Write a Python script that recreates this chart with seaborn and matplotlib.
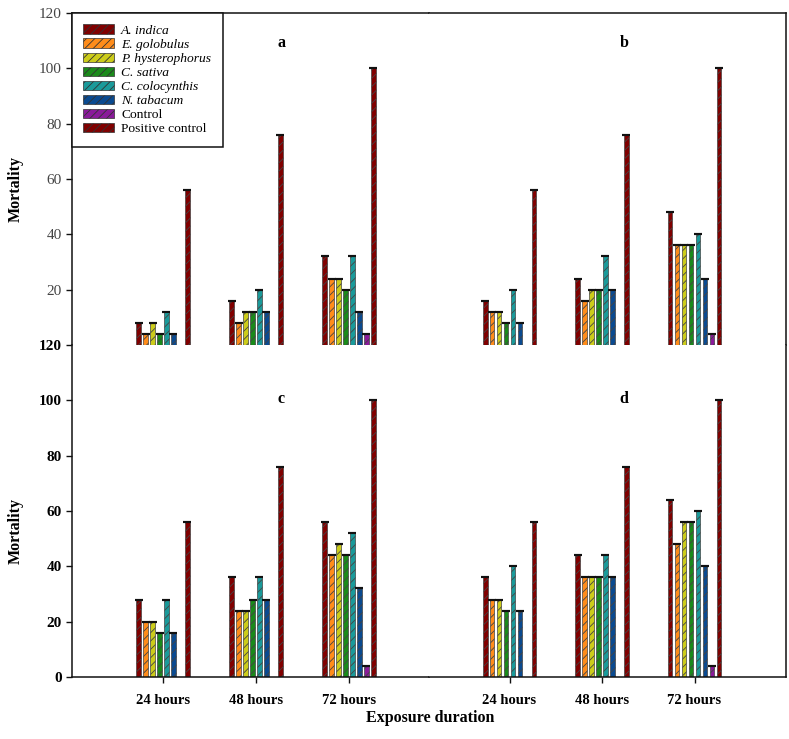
import matplotlib
matplotlib.use("Agg")
import matplotlib.pyplot as plt
from matplotlib.patches import Patch
import seaborn as sns
import pandas as pd

durations = ["24 hours", "48 hours", "72 hours"]
treatments = ["A. indica", "E. golobulus", "P. hysterophorus", "C. sativa",
              "C. colocynthis", "N. tabacum", "Control", "Positive control"]
colors = ["#800000", "#ff8c1a", "#cccc1a", "#1a8a1a",
          "#1a9a9a", "#0a4a90", "#8a1a9a", "#800000"]

# rows: treatments, columns: 24 h, 48 h, 72 h
panel_a = [[8, 16, 32], [4, 8, 24], [8, 12, 24], [4, 12, 20],
           [12, 20, 32], [4, 12, 12], [0, 0, 4], [56, 76, 100]]
panel_b = [[16, 24, 48], [12, 16, 36], [12, 20, 36], [8, 20, 36],
           [20, 32, 40], [8, 20, 24], [0, 0, 4], [56, 76, 100]]
panel_c = [[28, 36, 56], [20, 24, 44], [20, 24, 48], [16, 28, 44],
           [28, 36, 52], [16, 28, 32], [0, 0, 4], [56, 76, 100]]
panel_d = [[36, 44, 64], [28, 36, 48], [28, 36, 56], [24, 36, 56],
           [40, 44, 60], [24, 36, 40], [0, 0, 4], [56, 76, 100]]
panel_letters = ["a", "b", "c", "d"]

sns.set_theme(style="white")
plt.rcParams["font.family"] = ["Liberation Serif", "DejaVu Serif"]
plt.rcParams["hatch.linewidth"] = 0.6
plt.rcParams["hatch.color"] = "#111111"
plt.rcParams["text.color"] = "black"
plt.rcParams["axes.labelcolor"] = "black"
plt.rcParams["xtick.color"] = "black"
plt.rcParams["ytick.color"] = "black"

W, H = 789, 739
fig = plt.figure(figsize=(W / 100, H / 100), dpi=100)

left_px, mid_px, right_px = 72, 429, 786
top_px, midy_px, bot_px = 13, 345, 677


def box(x0, x1, y0, y1):
    return [x0 / W, 1 - y1 / H, (x1 - x0) / W, (y1 - y0) / H]


axes = [
    fig.add_axes(box(left_px, mid_px, top_px, midy_px)),
    fig.add_axes(box(mid_px, right_px, top_px, midy_px)),
    fig.add_axes(box(left_px, mid_px, midy_px, bot_px)),
    fig.add_axes(box(mid_px, right_px, midy_px, bot_px)),
]
panels = [panel_a, panel_b, panel_c, panel_d]

for i, (ax, panel) in enumerate(zip(axes, panels)):
    rows = []
    for t, vals in zip(treatments, panel):
        for d, v in zip(durations, vals):
            rows.append({"duration": d, "treatment": t, "mortality": v})
    df = pd.DataFrame(rows)
    sns.barplot(data=df, x="duration", y="mortality", hue="treatment",
                order=durations, hue_order=treatments, palette=colors,
                width=0.6, gap=0.35, errorbar=None, ax=ax,
                edgecolor="#444444", linewidth=0.5, hatch="////",
                legend=False, saturation=1)
    # caps on top of bars
    for p in ax.patches:
        h = p.get_height()
        if h > 0:
            ax.errorbar(p.get_x() + p.get_width() / 2, h, yerr=0,
                        fmt="none", ecolor="#111111", capsize=3,
                        capthick=1.5, elinewidth=0)
    ax.set_ylim(0, 120)
    unit = 93.0
    if i % 2 == 0:
        ax.set_xlim(-(163 - left_px) / unit, 2 + (mid_px - 349) / unit)
    else:
        ax.set_xlim(-(510 - mid_px) / unit, 2 + (right_px - 694) / unit)
    ax.set_xlabel("")
    ax.set_ylabel("")
    for s in ax.spines.values():
        s.set_color("#111111")
        s.set_linewidth(1.1)
    top_row = i < 2
    left_col = i % 2 == 0
    ax.spines["top"].set_visible(top_row)
    ax.spines["bottom"].set_visible(not top_row)
    ax.spines["left"].set_visible(left_col)
    ax.spines["right"].set_visible(not left_col)
    ax.tick_params(axis="both", direction="out", length=4, width=1,
                   color="#111111")
    if top_row:
        ax.set_xticks([])
    else:
        ax.set_xticks(range(3))
        ax.set_xticklabels(durations, fontsize=10.5, fontweight="bold")
        ax.tick_params(axis="x", bottom=True, pad=8)
    label_x = -(left_px - 24) / (mid_px - left_px)
    if left_col:
        if top_row:
            ax.set_yticks([20, 40, 60, 80, 100, 120])
            ax.set_yticklabels([str(v) for v in [20, 40, 60, 80, 100, 120]],
                               fontsize=11, color="#444444")
            ax.set_ylabel("Mortality", fontsize=11.5, fontweight="bold")
            ax.yaxis.set_label_coords(label_x, 0.47)
        else:
            ax.set_yticks([0, 20, 40, 60, 80, 100, 120])
            ax.set_yticklabels([str(v) for v in [0, 20, 40, 60, 80, 100, 120]],
                               fontsize=11, fontweight="bold")
            ax.set_ylabel("Mortality", fontsize=11.5, fontweight="bold")
            ax.yaxis.set_label_coords(label_x, 0.44)
        ax.tick_params(axis="y", left=True)
    else:
        ax.set_yticks([])
    lx = 1.27 if left_col else 1.24
    ly = 109 if top_row else 100.5
    ax.text(lx, ly, panel_letters[i], fontsize=11.5, fontweight="bold",
            ha="center", va="center")

handles = [Patch(facecolor=c, edgecolor="#333333", hatch="////", linewidth=0.5)
           for c in colors]
leg = axes[0].legend(handles, treatments, loc="upper left",
                     bbox_to_anchor=(0, 1), borderaxespad=0, fontsize=9.7,
                     frameon=True, fancybox=False, edgecolor="#111111",
                     framealpha=1, labelspacing=0.12, handlelength=2.3,
                     handleheight=0.7, handletextpad=0.5, borderpad=0.85)
leg.get_frame().set_linewidth(1.1)
for t in leg.get_texts()[:6]:
    t.set_fontstyle("italic")

fig.text(430 / W, 1 - 718 / H, "Exposure duration", fontsize=11.5,
         fontweight="bold", ha="center", va="center")

fig.savefig("out.png", dpi=100)
